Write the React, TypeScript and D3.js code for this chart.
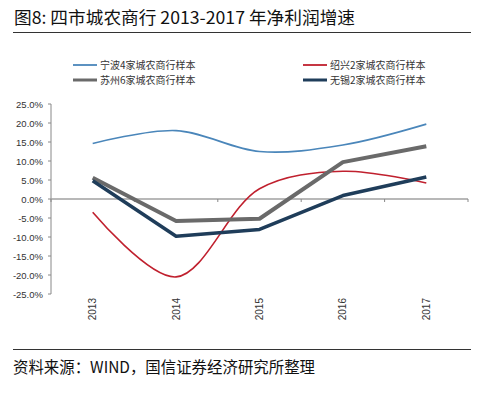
import React from "react";
import * as d3 from "d3";

const years = ["2013", "2014", "2015", "2016", "2017"];
const ningbo = [14.6, 18.0, 12.5, 14.2, 19.7];
const shaoxing = [-3.5, -20.5, 2.7, 7.3, 4.2];
const suzhou = [5.6, -5.8, -5.2, 9.7, 13.9];
const wuxi = [4.8, -9.8, -8.0, 0.9, 5.8];
const yTicks = [25, 20, 15, 10, 5, 0, -5, -10, -15, -20, -25];

const series = [
  { name: "宁波4家城农商行样本", values: ningbo, color: "#4a86ba", width: 1.6, smooth: true },
  { name: "绍兴2家城农商行样本", values: shaoxing, color: "#c0202e", width: 1.6, smooth: true },
  { name: "苏州6家城农商行样本", values: suzhou, color: "#6a6a6a", width: 4, smooth: false },
  { name: "无锡2家城农商行样本", values: wuxi, color: "#1f3d5a", width: 3.5, smooth: false },
];

const legendPos = [
  { x: 73, y: 65 },
  { x: 303, y: 65 },
  { x: 73, y: 80 },
  { x: 303, y: 80 },
];

export default function App() {
  const x = d3.scaleBand().domain(years).range([51, 468]);
  const y = d3.scaleLinear().domain([-25, 25]).range([294, 104]);
  const cx = (yr: string) => (x(yr) as number) + x.bandwidth() / 2;
  const boundaries = years.map((yr) => x(yr) as number).concat([468]);
  const cjk = '"Noto Sans CJK SC", "Noto Sans", sans-serif';
  const lat = '"Liberation Sans", Arial, sans-serif';

  return (
    <svg
      width={490}
      height={394}
      style={{ position: "absolute", left: 0, top: 0, background: "#fff" }}
    >
      <rect width={490} height={394} fill="#fff" />
      <text x={14} y={24} fontFamily={cjk} fontSize={17} fill="#111" textLength={341} lengthAdjust="spacingAndGlyphs">
        图8: 四市城农商行 2013-2017 年净利润增速
      </text>
      <line x1={13} x2={471} y1={32.5} y2={32.5} stroke="#333" strokeWidth={1} />

      {series.map((s, i) => (
        <g key={s.name}>
          <line
            x1={legendPos[i].x}
            x2={legendPos[i].x + 24}
            y1={legendPos[i].y}
            y2={legendPos[i].y}
            stroke={s.color}
            strokeWidth={s.smooth ? 1.8 : 3}
          />
          <text x={legendPos[i].x + 27} y={legendPos[i].y + 3.5} fontFamily={cjk} fontSize={10} fill="#333">
            {s.name}
          </text>
        </g>
      ))}

      {/* y axis */}
      <line x1={51} x2={51} y1={104} y2={294} stroke="#888" strokeWidth={1} />
      {yTicks.map((t) => (
        <g key={t}>
          <line x1={48} x2={51} y1={y(t)} y2={y(t)} stroke="#888" />
          <text x={43} y={y(t) + 3.5} textAnchor="end" fontFamily={lat} fontSize={9.5} fill="#333">
            {t.toFixed(1) + "%"}
          </text>
        </g>
      ))}

      {/* zero axis */}
      <line x1={51} x2={468} y1={y(0)} y2={y(0)} stroke="#a0a0a0" strokeWidth={1.5} />
      {boundaries.map((b, i) => (
        <line key={i} x1={b} x2={b} y1={y(0)} y2={y(0) + 3} stroke="#888" />
      ))}

      {years.map((yr) => (
        <text
          key={yr}
          transform={`translate(${cx(yr) + 3.5},298) rotate(-90)`}
          textAnchor="end"
          fontFamily={lat}
          fontSize={10}
          fill="#333"
        >
          {yr}
        </text>
      ))}

      {series.map((s) => {
        const gen = d3
          .line<number>()
          .x((_, i) => cx(years[i]))
          .y((v) => y(v))
          .curve(s.smooth ? d3.curveCatmullRom.alpha(0.5) : d3.curveLinear);
        return (
          <path
            key={s.name}
            d={gen(s.values) || ""}
            fill="none"
            stroke={s.color}
            strokeWidth={s.width}
            strokeLinejoin="round"
          />
        );
      })}

      <line x1={13} x2={471} y1={349.5} y2={349.5} stroke="#333" strokeWidth={1} />
      <text x={13} y={373} fontFamily={cjk} fontSize={16} fill="#111" textLength={302} lengthAdjust="spacingAndGlyphs">
        资料来源：WIND，国信证券经济研究所整理
      </text>
    </svg>
  );
}
